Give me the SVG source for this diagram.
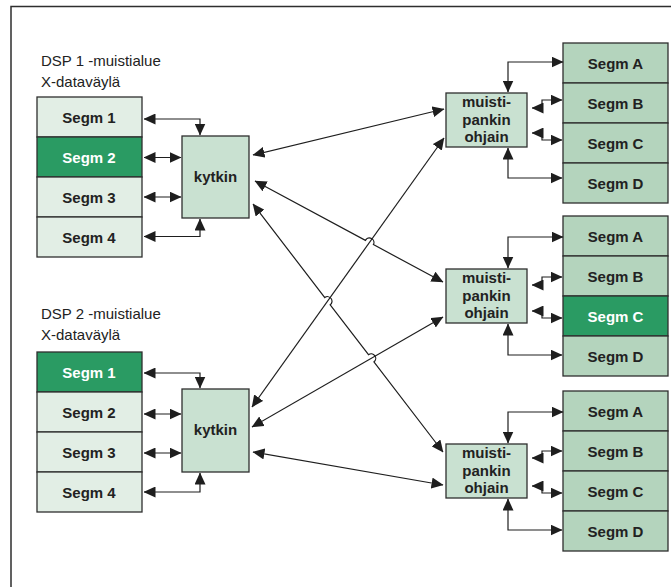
<svg xmlns="http://www.w3.org/2000/svg" width="671" height="587" viewBox="0 0 671 587">
<defs>
<marker id="ah" markerUnits="userSpaceOnUse" markerWidth="12" markerHeight="11" viewBox="0 0 12 11" refX="11.5" refY="5.5" orient="auto-start-reverse">
<path d="M0,0 L12,5.5 L0,11 z" fill="#1e1e1e"/>
</marker>
<style>
.lt{fill:#e2eee5;stroke:#2e2e2e;stroke-width:1.3}
.dk{fill:#2a9b63;stroke:#2e2e2e;stroke-width:1.3}
.md{fill:#b4d4bd;stroke:#2e2e2e;stroke-width:1.3}
.bx{fill:#c9e1d1;stroke:#2e2e2e;stroke-width:1.3}
.t{font-family:"Liberation Sans",Arial,sans-serif;font-size:15px;font-weight:bold;fill:#222;text-anchor:middle}
.tw{fill:#fff}
.h{font-family:"Liberation Sans",Arial,sans-serif;font-size:15px;fill:#222}
.c{fill:none;stroke:#1e1e1e;stroke-width:1.2;marker-start:url(#ah);marker-end:url(#ah)}
</style>
</defs>
<rect width="671" height="587" fill="#fff"/>
<path d="M11,587 V6.5 H671" fill="none" stroke="#2e2e2e" stroke-width="1.5"/>

<text class="h" x="41" y="66">DSP 1 -muistialue</text>
<text class="h" x="41" y="87">X-dataväylä</text>
<text class="h" x="41" y="319">DSP 2 -muistialue</text>
<text class="h" x="41" y="340">X-dataväylä</text>

<g id="dsp1-segm1"><rect class="lt" x="37" y="97" width="105" height="40"/><text class="t" x="89" y="122.5">Segm 1</text></g>
<g id="dsp1-segm2"><rect class="dk" x="37" y="137" width="105" height="40"/><text class="t tw" x="89" y="162.5">Segm 2</text></g>
<g id="dsp1-segm3"><rect class="lt" x="37" y="177" width="105" height="40"/><text class="t" x="89" y="202.5">Segm 3</text></g>
<g id="dsp1-segm4"><rect class="lt" x="37" y="217" width="105" height="40"/><text class="t" x="89" y="242.5">Segm 4</text></g>
<g id="kytkin1"><rect class="bx" x="182" y="136" width="67" height="82"/><text class="t" x="215.5" y="182">kytkin</text></g>

<g id="dsp2-segm1"><rect class="dk" x="37" y="352" width="105" height="40"/><text class="t tw" x="89" y="377.5">Segm 1</text></g>
<g id="dsp2-segm2"><rect class="lt" x="37" y="392" width="105" height="40"/><text class="t" x="89" y="417.5">Segm 2</text></g>
<g id="dsp2-segm3"><rect class="lt" x="37" y="432" width="105" height="40"/><text class="t" x="89" y="457.5">Segm 3</text></g>
<g id="dsp2-segm4"><rect class="lt" x="37" y="472" width="105" height="40"/><text class="t" x="89" y="497.5">Segm 4</text></g>
<g id="kytkin2"><rect class="bx" x="182" y="389" width="67" height="83"/><text class="t" x="215.5" y="435">kytkin</text></g>

<g id="ohjain1"><rect class="bx" x="446" y="93" width="81" height="54"/><text class="t" x="486.5" y="107">muisti-</text><text class="t" x="486.5" y="125">pankin</text><text class="t" x="486.5" y="142">ohjain</text></g>
<g id="bank1-a"><rect class="md" x="563" y="43" width="105" height="40"/><text class="t" x="615.5" y="68.5">Segm A</text></g>
<g id="bank1-b"><rect class="md" x="563" y="83" width="105" height="40"/><text class="t" x="615.5" y="108.5">Segm B</text></g>
<g id="bank1-c"><rect class="md" x="563" y="123" width="105" height="40"/><text class="t" x="615.5" y="148.5">Segm C</text></g>
<g id="bank1-d"><rect class="md" x="563" y="163" width="105" height="40"/><text class="t" x="615.5" y="188.5">Segm D</text></g>

<g id="ohjain2"><rect class="bx" x="446" y="269" width="81" height="54"/><text class="t" x="486.5" y="283">muisti-</text><text class="t" x="486.5" y="301">pankin</text><text class="t" x="486.5" y="318">ohjain</text></g>
<g id="bank2-a"><rect class="md" x="563" y="216" width="105" height="40"/><text class="t" x="615.5" y="241.5">Segm A</text></g>
<g id="bank2-b"><rect class="md" x="563" y="256" width="105" height="40"/><text class="t" x="615.5" y="281.5">Segm B</text></g>
<g id="bank2-c"><rect class="dk" x="563" y="296" width="105" height="40"/><text class="t tw" x="615.5" y="321.5">Segm C</text></g>
<g id="bank2-d"><rect class="md" x="563" y="336" width="105" height="40"/><text class="t" x="615.5" y="361.5">Segm D</text></g>

<g id="ohjain3"><rect class="bx" x="446" y="444" width="81" height="54"/><text class="t" x="486.5" y="458">muisti-</text><text class="t" x="486.5" y="476">pankin</text><text class="t" x="486.5" y="493">ohjain</text></g>
<g id="bank3-a"><rect class="md" x="563" y="391" width="105" height="40"/><text class="t" x="615.5" y="416.5">Segm A</text></g>
<g id="bank3-b"><rect class="md" x="563" y="431" width="105" height="40"/><text class="t" x="615.5" y="456.5">Segm B</text></g>
<g id="bank3-c"><rect class="md" x="563" y="471" width="105" height="40"/><text class="t" x="615.5" y="496.5">Segm C</text></g>
<g id="bank3-d"><rect class="md" x="563" y="511" width="105" height="40"/><text class="t" x="615.5" y="536.5">Segm D</text></g>

<g id="connectors">
<path class="c" d="M144,119 H200 V135"/>
<path class="c" d="M144,157.5 H181"/>
<path class="c" d="M144,197 H181"/>
<path class="c" d="M144,236.5 H200 V219"/>
<path class="c" d="M144,373 H200 V388"/>
<path class="c" d="M144,414 H181"/>
<path class="c" d="M144,453 H181"/>
<path class="c" d="M144,492 H200 V473"/>

<path class="c" d="M253,155 L444,109"/>
<path class="c" d="M252,407 L444,138"/>
<path class="c" d="M255,181 L365.4,240.4 A4.5,4.5 0 0 1 373.4,244.6 L443,282"/>
<path class="c" d="M253,204 L324.8,297.6 A4.5,4.5 0 0 1 330.2,304.8 L368.5,354.7 A4.5,4.5 0 0 1 373.9,361.9 L443,452"/>
<path class="c" d="M252,427 L443,317"/>
<path class="c" d="M253,452 L443,485"/>

<path class="c" d="M563,62 H508 V92"/>
<path class="c" d="M532,108 H542 V100 H562"/>
<path class="c" d="M532,133 H542 V140 H562"/>
<path class="c" d="M508,148 V178 H562"/>

<path class="c" d="M563,237 H508 V268"/>
<path class="c" d="M532,285 H542 V277 H562"/>
<path class="c" d="M532,311 H542 V318 H562"/>
<path class="c" d="M508,324 V355 H562"/>

<path class="c" d="M563,412 H508 V443"/>
<path class="c" d="M532,458 H542 V451 H562"/>
<path class="c" d="M532,486 H542 V493 H562"/>
<path class="c" d="M508,499 V530 H562"/>
</g>
</svg>
